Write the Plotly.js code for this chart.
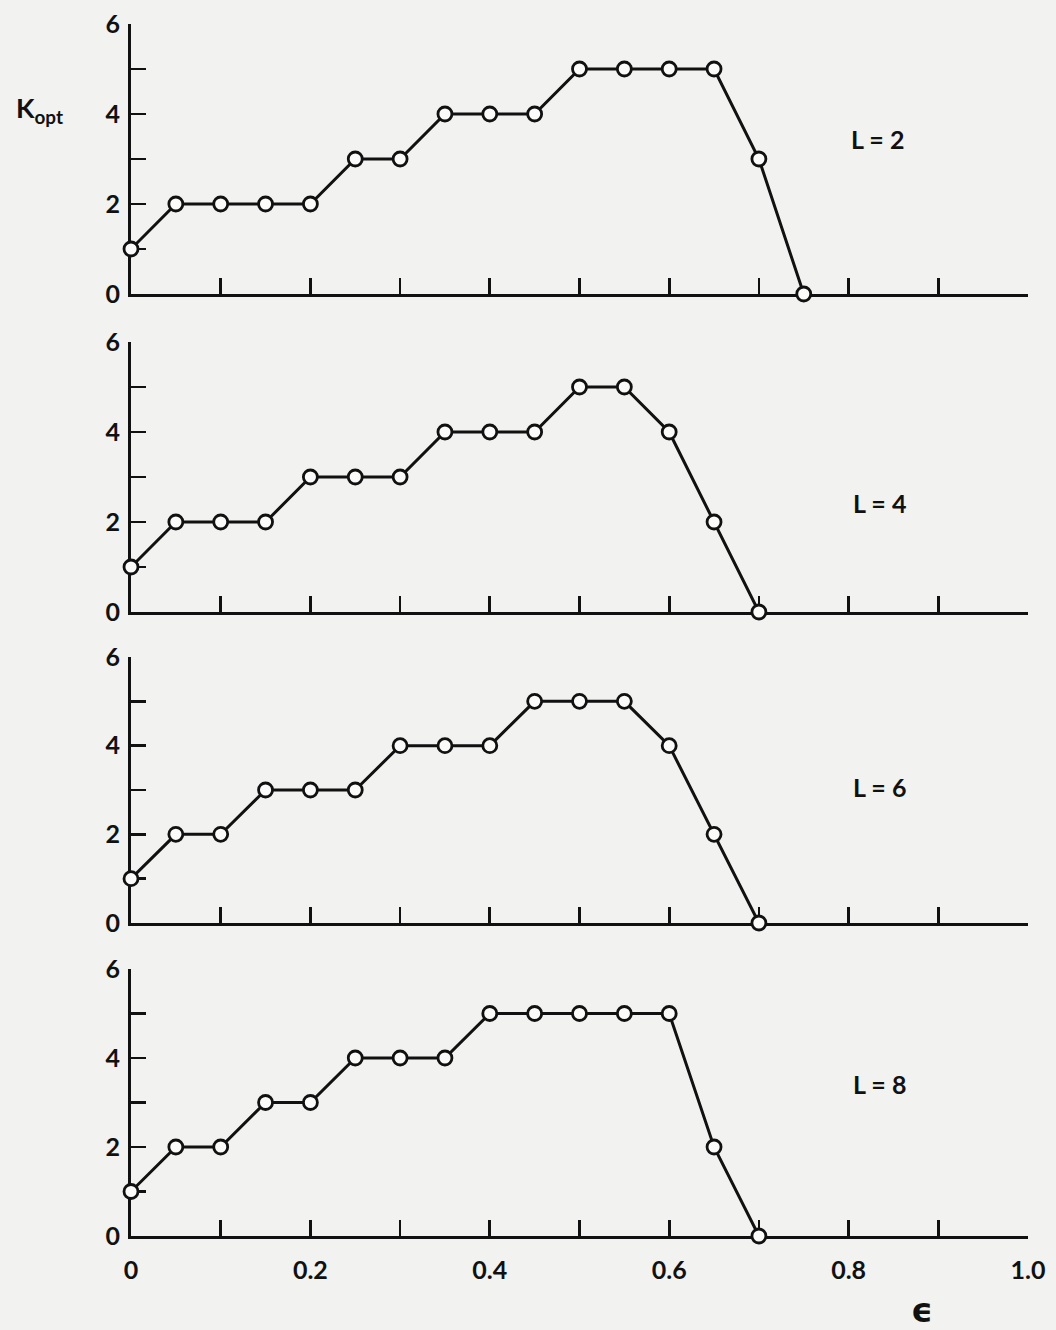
<!DOCTYPE html>
<html>
<head>
<meta charset="utf-8">
<script src="https://cdn.plot.ly/plotly-3.0.1.min.js"></script>
<style>html,body{margin:0;padding:0;background:#f2f2f0;}</style>
</head>
<body>
<div id="chart" style="width:1056px;height:1330px;"></div>
<script>
// epsilon values
var eps = [0, 0.05, 0.10, 0.15, 0.20, 0.25, 0.30, 0.35, 0.40, 0.45, 0.50, 0.55, 0.60, 0.65, 0.70, 0.75];
// K_opt for each L
var kL2 = [1, 2, 2, 2, 2, 3, 3, 4, 4, 4, 5, 5, 5, 5, 3, 0];
var kL4 = [1, 2, 2, 2, 3, 3, 3, 4, 4, 4, 5, 5, 4, 2, 0];
var kL6 = [1, 2, 2, 3, 3, 3, 4, 4, 4, 5, 5, 5, 4, 2, 0];
var kL8 = [1, 2, 2, 3, 3, 4, 4, 4, 5, 5, 5, 5, 5, 2, 0];
var panelLabels = ["L = 2", "L = 4", "L = 6", "L = 8"];
var labelX = [0.832, 0.834, 0.834, 0.834];
var labelY = [3.45, 2.42, 3.06, 3.42];
var xMajorVals = [0, 0.2, 0.4, 0.6, 0.8, 1.0];
var xMajorText = ["0", "0.2", "0.4", "0.6", "0.8", "1.0"];
var xMinorVals = [0.1, 0.3, 0.5, 0.7, 0.9];
var yMajorVals = [0, 2, 4, 6];
var yMajorText = ["0", "2", "4", "6"];
var yMinorVals = [1, 3, 5];
var yAxisTitle = "K<sub>opt</sub>";
var xAxisTitle = "\u03F5";

var series = [kL2, kL4, kL6, kL8];
var ink = "#111111";
var paper = "#f2f2f0";
var fontFam = "Lato, 'Open Sans', 'DejaVu Sans', sans-serif";

var H = 1330, W = 1056;
var pix = [[24, 294], [342, 612], [657, 923], [969, 1236]];

var traces = [];
var layout = {
  width: W, height: H,
  margin: {l: 131, r: 28, t: 0, b: 0},
  paper_bgcolor: paper, plot_bgcolor: paper,
  showlegend: false,
  font: {family: fontFam, color: ink, size: 25},
  annotations: []
};

for (var i = 0; i < 4; i++) {
  var n = i + 1;
  var xa = n === 1 ? "x" : "x" + n;
  var ya = n === 1 ? "y" : "y" + n;
  var ys = series[i];
  traces.push({
    x: eps.slice(0, ys.length), y: ys,
    xaxis: xa, yaxis: ya,
    mode: "lines+markers", type: "scatter",
    cliponaxis: false,
    line: {color: ink, width: 3},
    marker: {symbol: "circle", size: 14, color: "#fbfbfa", line: {color: ink, width: 2.8}},
    hoverinfo: "skip"
  });
  var last = (i === 3);
  layout[n === 1 ? "xaxis" : "xaxis" + n] = {
    anchor: ya,
    range: [0, 1],
    showgrid: false, zeroline: false,
    showline: true, linecolor: ink, linewidth: 3,
    layer: "below traces",
    ticks: "inside", ticklen: 16, tickwidth: 2.6, tickcolor: ink,
    tickmode: "array",
    tickvals: xMajorVals,
    ticktext: xMajorText,
    showticklabels: last,
    ticklabelstandoff: 10,
    tickfont: {family: fontFam, size: 25, color: ink, weight: 700},
    minor: {tickmode: "array", tickvals: xMinorVals, ticks: "inside", ticklen: 16, tickwidth: 2.6, tickcolor: ink, showgrid: false},
    fixedrange: true
  };
  layout[n === 1 ? "yaxis" : "yaxis" + n] = {
    anchor: xa,
    domain: [1 - pix[i][1] / H, 1 - pix[i][0] / H],
    range: [0, 6],
    showgrid: false, zeroline: false,
    showline: true, linecolor: ink, linewidth: 3,
    layer: "below traces",
    ticks: "inside", ticklen: 15, tickwidth: 2.6, tickcolor: ink,
    tickmode: "array", tickvals: yMajorVals, ticktext: yMajorText,
    ticklabelstandoff: 3,
    tickfont: {family: fontFam, size: 25, color: ink, weight: 700},
    minor: {tickmode: "array", tickvals: yMinorVals, ticks: "inside", ticklen: 15, tickwidth: 2.6, tickcolor: ink, showgrid: false},
    fixedrange: true
  };
  layout.annotations.push({
    xref: xa, yref: ya, x: labelX[i], y: labelY[i],
    text: panelLabels[i], showarrow: false,
    font: {family: fontFam, size: 25, color: ink, weight: 700},
    xanchor: "center", yanchor: "middle"
  });
}

layout.annotations.push({
  xref: "paper", yref: "paper", x: -0.13, y: 1 - 110 / H,
  xanchor: "left", yanchor: "middle",
  text: yAxisTitle, showarrow: false,
  font: {family: fontFam, size: 27, color: ink, weight: 700}
});
layout.annotations.push({
  xref: "paper", yref: "paper", x: (922 - 131) / 897, y: 1 - 1310 / H,
  xanchor: "center", yanchor: "middle",
  text: xAxisTitle, showarrow: false,
  font: {family: "'DejaVu Sans', sans-serif", size: 34, color: ink, weight: 700}
});

Plotly.newPlot("chart", traces, layout, {staticPlot: true, displayModeBar: false});
</script>
</body>
</html>
